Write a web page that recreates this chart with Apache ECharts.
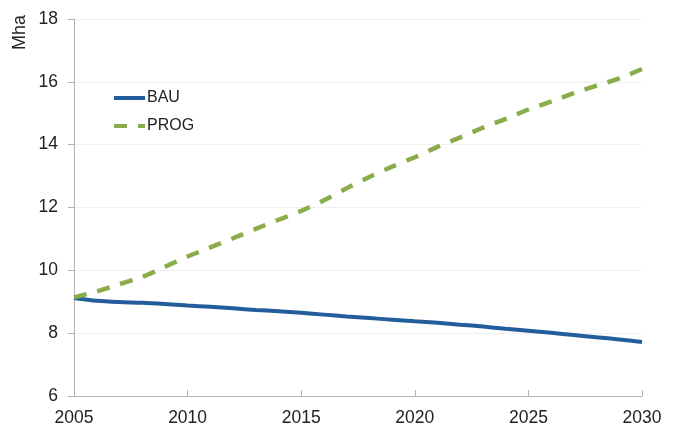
<!DOCTYPE html>
<html><head><meta charset="utf-8">
<script src="https://cdn.jsdelivr.net/npm/echarts@6/dist/echarts.min.js"></script>
<style>html,body{margin:0;padding:0;background:#fff}#c{width:678px;height:427px}</style>
</head><body><div id="c"></div>
<script>
var years = [2005,2006,2007,2008,2009,2010,2011,2012,2013,2014,2015,2016,2017,2018,2019,2020,2021,2022,2023,2024,2025,2026,2027,2028,2029,2030];
var bau = [9.12,9.03,8.99,8.97,8.93,8.88,8.84,8.79,8.74,8.70,8.65,8.59,8.53,8.48,8.43,8.38,8.33,8.27,8.21,8.14,8.08,8.01,7.94,7.87,7.80,7.72];
var prog = [9.14,9.33,9.56,9.79,10.11,10.44,10.73,11.02,11.32,11.61,11.89,12.23,12.61,12.97,13.30,13.60,13.93,14.23,14.54,14.82,15.12,15.37,15.64,15.88,16.11,16.41];
var yTicks = [6,18,2];
var xTicks = [2005,2030,5];
var yName = 'Mha';

function pairs(v){ return years.map(function(y,i){ return [y, v[i]]; }); }
var font = 'Liberation Sans, Arial, sans-serif';
var chart = echarts.init(document.getElementById('c'));
chart.setOption({
  animation:false,
  backgroundColor:'#fff',
  grid:{left:74,right:36,top:19,bottom:31,containLabel:false},
  graphic:[{type:'text',left:11,top:15,rotation:Math.PI/2,style:{text:yName,font:'18px '+font,fill:'#222'}}],
  legend:{orient:'vertical',left:107,top:84,itemWidth:31,itemHeight:14,itemGap:10,
    itemStyle:{opacity:0},
    lineStyle:{width:4},
    textStyle:{fontSize:16,lineHeight:18,fontFamily:font,color:'#222',padding:[0,0,0,-3]},
    data:['BAU','PROG']},
  xAxis:{type:'value',min:xTicks[0],max:xTicks[1],interval:xTicks[2],
    axisLine:{lineStyle:{color:'#b3b3b3',width:1}},
    axisTick:{inside:true,length:6,lineStyle:{color:'#b3b3b3'}},
    axisLabel:{fontSize:17.5,fontFamily:font,color:'#222',margin:13,formatter:function(v){return String(v);}},
    splitLine:{show:false}},
  yAxis:{type:'value',min:yTicks[0],max:yTicks[1],interval:yTicks[2],
    axisLine:{show:true,lineStyle:{color:'#b3b3b3',width:1}},
    axisTick:{show:true,length:6,lineStyle:{color:'#b3b3b3'}},
    axisLabel:{fontSize:17.5,fontFamily:font,color:'#222',margin:16},
    splitLine:{show:true,lineStyle:{color:'#efefef',width:1}}},
  series:[
    {name:'BAU',type:'line',data:pairs(bau),symbol:'none',smooth:0.3,
      lineStyle:{color:'#245d9c',width:4},itemStyle:{color:'#245d9c'}},
    {name:'PROG',type:'line',data:pairs(prog),symbol:'none',smooth:0.3,
      lineStyle:{color:'#8aac4a',width:4.5,type:[13,11]},itemStyle:{color:'#8aac4a'}}
  ]
});
</script></body></html>
